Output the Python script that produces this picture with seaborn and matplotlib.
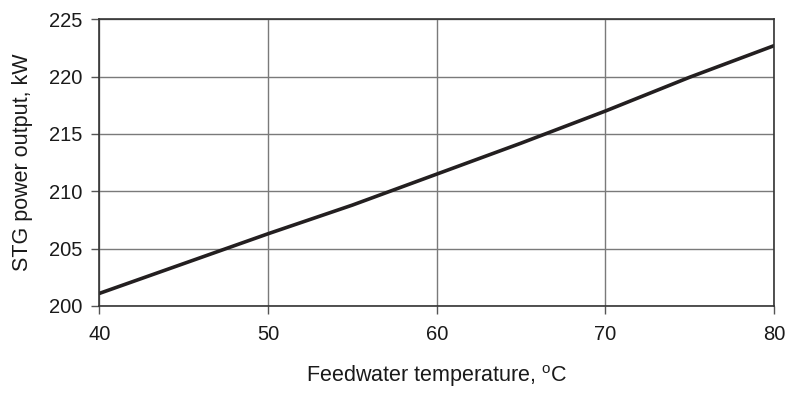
import matplotlib
matplotlib.use("Agg")
import matplotlib.pyplot as plt
import seaborn as sns
import pandas as pd

temperature = [40, 45, 50, 55, 60, 65, 70, 75, 80]
power_kw = [201.1, 203.7, 206.3, 208.8, 211.5, 214.2, 217.0, 219.95, 222.7]
x_ticks = [40, 50, 60, 70, 80]
y_ticks = [200, 205, 210, 215, 220, 225]

sns.set_theme(style="white")
plt.rcParams['font.family'] = ['Liberation Sans', 'DejaVu Sans']
plt.rcParams['mathtext.fontset'] = 'custom'
plt.rcParams['mathtext.rm'] = 'Liberation Sans'

df = pd.DataFrame({"t": temperature, "p": power_kw})

fig = plt.figure(figsize=(7.87, 3.94), dpi=100)
ax = fig.add_axes([0.1264, 0.2234, 0.8571, 0.7276])
sns.lineplot(data=df, x="t", y="p", ax=ax, color="#231f20", linewidth=2.6)

ax.set_xlim(40, 80)
ax.set_ylim(200, 225)
ax.set_xticks(x_ticks)
ax.set_yticks(y_ticks)
ax.grid(True, color="#7a7a7a", linewidth=1.0)
for s in ax.spines.values():
    s.set_color("#333333")
    s.set_linewidth(1.2)
ax.tick_params(axis="both", direction="out", length=5.5, width=1, color="#555555",
               labelsize=14.5, labelcolor="#1a1a1a", bottom=True, left=True)
ax.tick_params(axis="x", pad=8)
ax.tick_params(axis="y", pad=7)
ax.set_xlabel(r"Feedwater temperature, $^{\mathrm{o}}$C", fontsize=15.5, color="#1a1a1a", labelpad=14)
ax.set_ylabel("STG power output, kW", fontsize=15.5, color="#1a1a1a", labelpad=11)

fig.savefig("out.png", dpi=100)
